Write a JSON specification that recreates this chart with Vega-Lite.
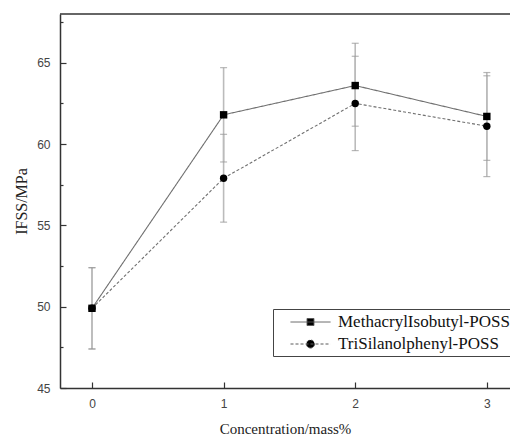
{
  "$schema": "https://vega.github.io/schema/vega-lite/v6.json",
  "width": 450,
  "height": 374,
  "autosize": {"type": "none"},
  "padding": {"left": 60, "top": 14, "right": 0, "bottom": 49},
  "background": "white",
  "config": {"view": {"stroke": null}},
  "data": {
    "values": [
      {"series": "MethacrylIsobutyl-POSS", "conc": 0, "ifss": 49.9, "lo": 47.4, "hi": 52.4},
      {"series": "MethacrylIsobutyl-POSS", "conc": 1, "ifss": 61.8, "lo": 58.9, "hi": 64.7},
      {"series": "MethacrylIsobutyl-POSS", "conc": 2, "ifss": 63.6, "lo": 61.1, "hi": 66.2},
      {"series": "MethacrylIsobutyl-POSS", "conc": 3, "ifss": 61.7, "lo": 59.0, "hi": 64.4},
      {"series": "TriSilanolphenyl-POSS", "conc": 0, "ifss": 49.9, "lo": 47.4, "hi": 52.4},
      {"series": "TriSilanolphenyl-POSS", "conc": 1, "ifss": 57.9, "lo": 55.2, "hi": 60.6},
      {"series": "TriSilanolphenyl-POSS", "conc": 2, "ifss": 62.5, "lo": 59.6, "hi": 65.4},
      {"series": "TriSilanolphenyl-POSS", "conc": 3, "ifss": 61.1, "lo": 58.0, "hi": 64.2}
    ]
  },
  "layer": [
    {
      "transform": [{"filter": "false"}],
      "mark": {"type": "point", "filled": false, "strokeWidth": 1, "opacity": 1},
      "encoding": {
        "x": {"field": "conc", "type": "quantitative", "scale": {"domain": [-0.243, 3.176], "nice": false, "zero": false}},
        "y": {"field": "ifss", "type": "quantitative", "axis": null, "scale": {"domain": [45, 68], "nice": false, "zero": false}},
        "strokeDash": {
          "field": "series", "type": "nominal",
          "scale": {"domain": ["MethacrylIsobutyl-POSS", "TriSilanolphenyl-POSS"], "range": [[1, 0], [3, 2]]}
        },
        "stroke": {
          "field": "series", "type": "nominal",
          "scale": {"domain": ["MethacrylIsobutyl-POSS", "TriSilanolphenyl-POSS"], "range": ["#5a5a5a", "#5a5a5a"]}
        },
        "fill": {
          "field": "series", "type": "nominal",
          "scale": {"domain": ["MethacrylIsobutyl-POSS", "TriSilanolphenyl-POSS"], "range": ["black", "black"]}
        },
        "shape": {
          "field": "series", "type": "nominal",
          "scale": {
            "domain": ["MethacrylIsobutyl-POSS", "TriSilanolphenyl-POSS"],
            "range": ["M0.53,0H5.24M2.47,-0.41H3.29V0.41H2.47Z", "M0.53,0H5.24M2.4,0A0.48,0.48 0 1,0 3.36,0A0.48,0.48 0 1,0 2.4,0Z"]
          },
          "legend": {
            "orient": "none", "legendX": 213, "legendY": 295, "title": null,
            "padding": 4, "strokeColor": "#444", "fillColor": "white",
            "symbolSize": 289, "symbolStrokeWidth": 1,
            "labelOffset": 43, "rowPadding": 5,
            "labelFont": "Liberation Serif", "labelFontSize": 17, "labelColor": "#111", "labelLimit": 0
          }
        }
      }
    },
    {
      "data": {"values": [{"top": 68}]},
      "mark": {"type": "rule", "color": "#333", "strokeWidth": 1.5},
      "encoding": {
        "y": {
          "field": "top", "type": "quantitative",
          "axis": {"orient": "left", "values": [47.5, 52.5, 57.5, 62.5, 67.5], "labels": false, "domain": false, "grid": false, "tickSize": -3, "tickColor": "#333", "tickWidth": 1.2, "title": null}
        }
      }
    },
    {
      "mark": {"type": "rule", "color": "#bbb", "strokeWidth": 1.6},
      "encoding": {
        "x": {"field": "conc", "type": "quantitative"},
        "y": {"field": "lo", "type": "quantitative", "axis": null},
        "y2": {"field": "hi"}
      }
    },
    {
      "mark": {"type": "tick", "orient": "horizontal", "color": "#999", "thickness": 1.2, "size": 7},
      "encoding": {
        "x": {"field": "conc", "type": "quantitative"},
        "y": {"field": "lo", "type": "quantitative", "axis": null}
      }
    },
    {
      "mark": {"type": "tick", "orient": "horizontal", "color": "#999", "thickness": 1.2, "size": 7},
      "encoding": {
        "x": {"field": "conc", "type": "quantitative"},
        "y": {"field": "hi", "type": "quantitative", "axis": null}
      }
    },
    {
      "mark": {"type": "line", "strokeWidth": 1.1, "color": "#707070"},
      "encoding": {
        "x": {
          "field": "conc", "type": "quantitative",
          "axis": {
            "values": [0, 1, 2, 3], "format": "d", "grid": false,
            "tickSize": -6, "tickColor": "#333", "tickWidth": 1.2,
            "domainColor": "#333", "domainWidth": 1.5,
            "labelFont": "Liberation Sans", "labelFontSize": 12, "labelColor": "#444", "labelPadding": 16,
            "title": "Concentration/mass%", "titleFont": "Liberation Serif", "titleFontSize": 15, "titleFontWeight": "normal", "titleColor": "#222", "titlePadding": 12
          }
        },
        "y": {
          "field": "ifss", "type": "quantitative",
          "axis": {
            "orient": "left", "values": [45, 50, 55, 60, 65], "grid": false,
            "tickSize": -6, "tickColor": "#333", "tickWidth": 1.2,
            "domainColor": "#333", "domainWidth": 1.5,
            "labelFont": "Liberation Sans", "labelFontSize": 12, "labelColor": "#444", "labelPadding": 16,
            "title": "IFSS/MPa", "titleFont": "Liberation Serif", "titleFontSize": 16, "titleFontWeight": "normal", "titleColor": "#222", "titlePadding": 7
          }
        },
        "strokeDash": {"field": "series", "type": "nominal"}
      }
    },
    {
      "transform": [{"filter": "datum.series === 'MethacrylIsobutyl-POSS'"}],
      "mark": {"type": "point", "filled": true, "color": "black", "opacity": 1, "size": 55, "shape": "square"},
      "encoding": {
        "x": {"field": "conc", "type": "quantitative"},
        "y": {"field": "ifss", "type": "quantitative", "axis": null}
      }
    },
    {
      "transform": [{"filter": "datum.series === 'TriSilanolphenyl-POSS'"}],
      "mark": {"type": "point", "filled": true, "color": "black", "opacity": 1, "size": 55, "shape": "circle"},
      "encoding": {
        "x": {"field": "conc", "type": "quantitative"},
        "y": {"field": "ifss", "type": "quantitative", "axis": null}
      }
    }
  ],
  "resolve": {"axis": {"y": "independent"}}
}
